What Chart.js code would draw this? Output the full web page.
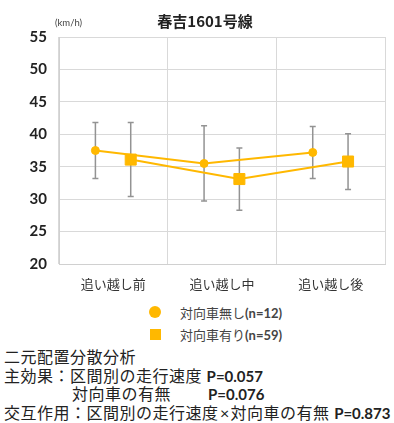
<!DOCTYPE html>
<html lang="ja">
<head>
<meta charset="utf-8">
<script src="https://cdn.jsdelivr.net/npm/chart.js@4.4.1/dist/chart.umd.min.js"></script>
<style>
  html, body { margin: 0; padding: 0; background: #fff; }
  body { width: 394px; height: 423px; position: relative; overflow: hidden;
         font-family: "Lato", "Noto Sans CJK JP", sans-serif; }
  #wrap { position: absolute; left: 0; top: 0; width: 394px; height: 300px; }
  .legend { position: absolute; left: 149px; font-size: 13px; color: #444; }
  .legend .mk { position: absolute; background: #FFB800; }
  .legend .txt { position: absolute; left: 31px; white-space: nowrap; }
  .legend b { font-weight: 700; }
  #stats { position: absolute; left: 4px; top: 348px; font-size: 16px; line-height: 18.7px;
           color: #222; white-space: nowrap; letter-spacing: 0.5px; }
  #stats b { font-weight: 700; font-size: 15px; letter-spacing: 0; }
  #stats .x { display: inline-block; width: 12px; text-align: center; letter-spacing: 0; }
</style>
</head>
<body>
<div id="wrap"><canvas id="c" width="394" height="300"></canvas></div>

<div class="legend" style="top:303px;">
  <span class="mk" style="left:0;top:3px;width:12px;height:12px;border-radius:50%;"></span>
  <span class="txt" style="top:0;">対向車無し<b>(n=12)</b></span>
</div>
<div class="legend" style="top:325px;">
  <span class="mk" style="left:0.5px;top:3.5px;width:11px;height:11px;"></span>
  <span class="txt" style="top:0;">対向車有り<b>(n=59)</b></span>
</div>

<div id="stats">
  <div>二元配置分散分析</div>
  <div>主効果：区間別の走行速度 <b>P=0.057</b></div>
  <div><span style="display:inline-block;width:68px;"></span><span style="display:inline-block;width:136px;">対向車の有無</span><b>P=0.076</b></div>
  <div>交互作用：区間別の走行速度<span class="x">×</span>対向車の有無 <b>P=0.873</b></div>
</div>

<script>
// Sections of the road where speed was measured
const categories = ['追い越し前', '追い越し中', '追い越し後'];

// Mean running speed (km/h) and standard deviation per section
const noOncomingMean = [37.5, 35.5, 37.2];
const noOncomingSD   = [4.3, 5.8, 4.0];
const oncomingMean   = [36.1, 33.1, 35.8];
const oncomingSD     = [5.7, 4.8, 4.3];

const seriesNames = ['対向車無し(n=12)', '対向車有り(n=59)'];

// y-axis ticks
const yTicks = [20, 25, 30, 35, 40, 45, 50, 55];

const ORANGE = '#FFB800';
const WHISKER = '#939393';

// each series sits a little to one side of the section's centre
function placed(values, shift) {
  return values.map((v, i) => ({ x: i + 0.5 + shift, y: v }));
}

const errorBars = {
  id: 'errorBars',
  beforeDatasetsDraw(chart) {
    const { ctx } = chart;
    const yScale = chart.scales.y;
    ctx.save();
    ctx.strokeStyle = WHISKER;
    ctx.lineWidth = 1.5;
    chart.data.datasets.forEach((ds, di) => {
      const meta = chart.getDatasetMeta(di);
      ds.sd.forEach((sd, i) => {
        const pt = meta.data[i];
        const mean = ds.data[i].y;
        const yTop = yScale.getPixelForValue(mean + sd);
        const yBot = yScale.getPixelForValue(mean - sd);
        ctx.beginPath();
        ctx.moveTo(pt.x, yTop); ctx.lineTo(pt.x, yBot);
        ctx.moveTo(pt.x - 3, yTop); ctx.lineTo(pt.x + 3, yTop);
        ctx.moveTo(pt.x - 3, yBot); ctx.lineTo(pt.x + 3, yBot);
        ctx.stroke();
      });
    });
    ctx.restore();
  }
};

const headings = {
  id: 'headings',
  afterDraw(chart) {
    const { ctx } = chart;
    ctx.save();
    ctx.fillStyle = '#222';
    ctx.textAlign = 'center';
    ctx.textBaseline = 'middle';
    ctx.font = 'bold 15px "Noto Sans CJK JP", sans-serif';
    ctx.fillText('春吉1601号線', 205, 21);
    ctx.fillStyle = '#444';
    ctx.textAlign = 'left';
    ctx.font = '9.5px "Lato", sans-serif';
    ctx.fillText('(km/h)', 55, 23);
    ctx.restore();
  }
};

new Chart(document.getElementById('c'), {
  type: 'line',
  data: {
    labels: categories,
    datasets: [
      {
        label: seriesNames[0],
        data: placed(noOncomingMean, -0.165),
        sd: noOncomingSD,
        xAxisID: 'xp',
        borderColor: ORANGE,
        backgroundColor: ORANGE,
        borderWidth: 2,
        pointStyle: 'circle',
        pointRadius: 4,
        pointBorderWidth: 1,
        pointHoverRadius: 4
      },
      {
        label: seriesNames[1],
        data: placed(oncomingMean, 0.16),
        sd: oncomingSD,
        xAxisID: 'xp',
        borderColor: ORANGE,
        backgroundColor: ORANGE,
        borderWidth: 2,
        pointStyle: 'rect',
        pointRadius: 7.8,
        pointBorderWidth: 1,
        pointHoverRadius: 7.8
      }
    ]
  },
  options: {
    responsive: false,
    animation: false,
    layout: { padding: { top: 37, right: 9, left: 0, bottom: 0 } },
    plugins: { legend: { display: false }, tooltip: { enabled: false }, title: { display: false } },
    scales: {
      x: {
        type: 'category',
        labels: categories,
        offset: true,
        grid: { offset: true, color: '#d9d9d9', lineWidth: 1, drawTicks: false },
        border: { color: '#d0d0d0' },
        ticks: { color: '#333', padding: 12, font: { family: '"Noto Sans CJK JP", sans-serif', size: 13 } },
        afterFit(s) { s.height = 36; }
      },
      xp: {
        type: 'linear',
        display: false,
        min: 0,
        max: categories.length
      },
      y: {
        min: yTicks[0],
        max: yTicks[yTicks.length - 1],
        afterBuildTicks(s) { s.ticks = yTicks.map(v => ({ value: v })); },
        grid: { color: '#d9d9d9', lineWidth: 1, drawTicks: false },
        border: { color: '#d0d0d0' },
        ticks: { color: '#222', padding: 12, font: { family: '"Lato", sans-serif', size: 15, weight: 'bold' } },
        afterFit(s) { s.width = 59; }
      }
    }
  },
  plugins: [errorBars, headings]
});
</script>
</body>
</html>
